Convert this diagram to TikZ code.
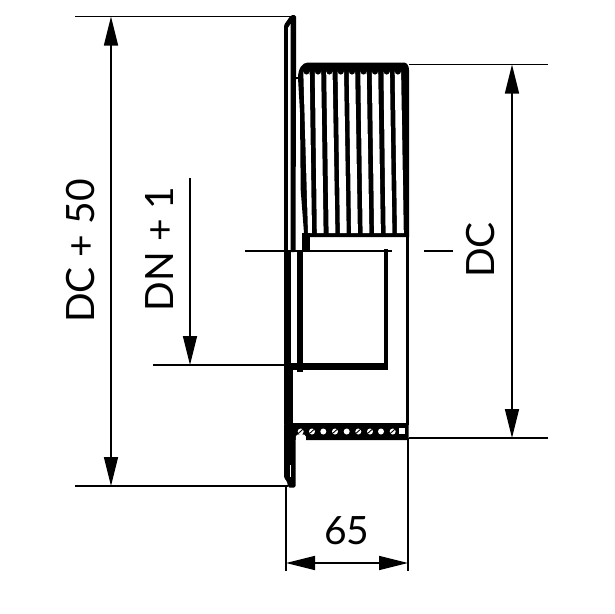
\documentclass[tikz,border=0pt]{standalone}
\usepackage{fontspec}
\setmainfont{Lato}
\usetikzlibrary{arrows.meta}
\tikzset{
  dim/.style={line width=1.7pt,black},
  dimarrow/.style={dim,{Triangle[length=29pt,width=14pt]}-{Triangle[length=29pt,width=14pt]}},
  dimarrowend/.style={dim,-{Triangle[length=29pt,width=14pt]}},
  lbl/.style={font=\fontsize{39}{39}\selectfont,inner sep=0pt,text=black}
}
\begin{document}
\begin{tikzpicture}[x=1pt,y=-1pt]
\useasboundingbox (0,0) rectangle (614,614);
% coordinates
\coordinate (tl) at (75,16.5); \coordinate (tr) at (292,16.5);
\coordinate (bl) at (75,486); \coordinate (br) at (288,486);
\coordinate (ct) at (548,64.5); \coordinate (ctl) at (409,64.5);
\coordinate (cb) at (548,438); \coordinate (cbl) at (409,438);
\coordinate (da) at (111,16.5); \coordinate (db) at (111,486);
\coordinate (na) at (190,178); \coordinate (nb) at (190,365);
\coordinate (ca) at (512,64.5); \coordinate (cc) at (512,438);
\coordinate (wl) at (286,487); \coordinate (wlb) at (286,571);
\coordinate (wr) at (408,438); \coordinate (wrb) at (408,571);
\coordinate (wa) at (286,563); \coordinate (wb) at (408,563);
\coordinate (h1) at (153,365); \coordinate (h2) at (290,365);
\coordinate (c1) at (245,251); \coordinate (c2) at (392,251);
\coordinate (c3) at (424,251); \coordinate (c4) at (453,251);
% extension lines
\draw[dim] (tl)--(tr); \draw[dim] (bl)--(br);
\draw[dim] (ctl)--(ct); \draw[dim] (cbl)--(cb);
\draw[dim] (h1)--(h2); \draw[dim] (c1)--(c2); \draw[dim] (c3)--(c4);
\draw[dim] (wl)--(wlb); \draw[dim] (wr)--(wrb);
% dimension arrows
\draw[dimarrow] (da)--(db);
\draw[dimarrow] (ca)--(cc);
\draw[dimarrow] (wa)--(wb);
\draw[dimarrowend] (na)--(nb);
% flange: outer walls
\fill[black,rounded corners=1.5pt] (284,252)--(284,25)--(291,15)--(296,15)--(296,80)--(295.5,252)--cycle;
\fill[white] (288,252)--(288,28)--(290.5,24)--(290.5,252)--cycle;
\fill[black] (284,250) rectangle (290.5,372);
\fill[black] (284,370) rectangle (293,424);
\fill[black,rounded corners=1.5pt] (284,423)--(295.5,423)--(295.5,487.5)--(288,487.5)--(287,481)--(284,478)--cycle;
\fill[white] (290,465) rectangle (291,477);
% threaded body
\draw[line width=2.2pt] (296,78)--(301,78);
\fill[black] (304,233)--(300.7,190)--(300,112)--(298,78) .. controls (298,69) and (302,62.5) .. (308,62.5)--(404,62.5) .. controls (407,62.5) and (409,66) .. (409,70)--(409,237)--(304,237)--cycle;
\foreach \t/\tw/\b/\bw in {306.5/3.2/310/2,318/3.2/320.2/3.4,329.4/3.2/332/3.4,340.8/3.2/343.3/3.4,352/3.2/354.5/3.4,363.5/3.2/366/3.4,375/3.2/377.5/3.4,386.7/3.2/389/3.4,397.9/3.2/400.4/3.4}{
  \fill[white] (\t-\tw,71.5) arc (180:0:\tw) -- (\b+\bw,233.2) -- (\b-\bw,233.2) -- cycle;
}
\fill[black] (302,233) rectangle (310,252);
% lower wall
\draw[line width=3pt] (407.5,236)--(407.5,425);
% inner bore
\fill[black] (297,250) rectangle (303,372);
\fill[black] (290,363) rectangle (388,370);
\draw[line width=3.5pt] (386.2,249)--(386.2,366);
% lower thread band
\fill[black,rounded corners=1pt] (293,423) rectangle (408.5,440);
\fill[white] (295.8,441)--(295.8,436.5) arc (180:360:5 and 2.5) --(306,441)--cycle;
\foreach \x in {300.7,312,323.3,335,346.7,358.3,370,381,392.7}{
  \fill[white] (\x,431.5) circle (3pt);
}
\foreach \x in {300.7,312,335,358.3,370,392.7}{
  \draw[black,line width=0.9pt] ({\x-2.5},433.5)--({\x+2.5},429);
}
\fill[white] (399.3,428.3) rectangle (405,434.3);
% labels
\node[lbl,rotate=90] (t50) at (80.5,251) {DC + 50};
\node[lbl,rotate=90] (tdn) at (159,249) {DN + 1};
\node[lbl,rotate=90] (tdc) at (481,250) {DC};
\node[lbl] (t65) at (346.7,531) {65};
\end{tikzpicture}
\end{document}
